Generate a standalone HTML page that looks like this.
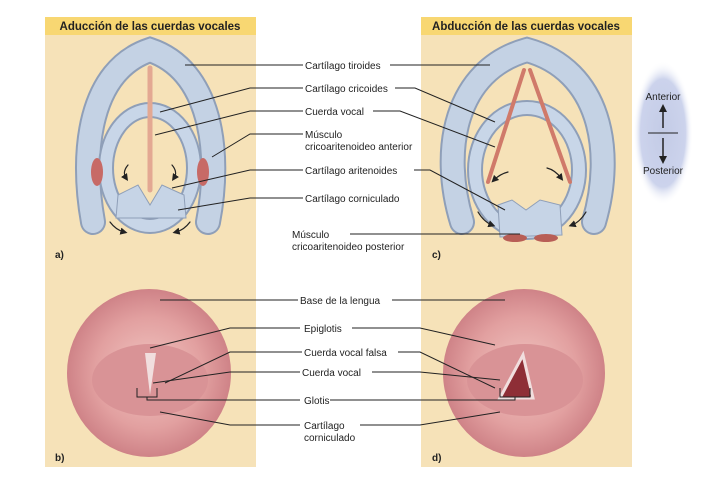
<!DOCTYPE html>
<html><head><meta charset="utf-8"><style>
body{margin:0;background:#fff;}
svg{display:block;font-family:"Liberation Sans",Arial,sans-serif;}
</style></head><body>
<svg width="701" height="491" viewBox="0 0 701 491" xmlns="http://www.w3.org/2000/svg">
<defs>
<radialGradient id="pk" cx="50%" cy="50%" r="55%">
<stop offset="0" stop-color="#f1c6c2"/><stop offset="0.6" stop-color="#e2a0a0"/><stop offset="1" stop-color="#c97a80"/></radialGradient>
<radialGradient id="ov" cx="50%" cy="50%" r="50%">
<stop offset="0" stop-color="#c3cbe6"/><stop offset="0.75" stop-color="#ccd3ec"/><stop offset="1" stop-color="#fff" stop-opacity="0"/></radialGradient>
<marker id="ah" markerWidth="6" markerHeight="6" refX="3" refY="3" orient="auto"><path d="M0,0 L6,3 L0,6 Z" fill="#222"/></marker>
</defs>
<rect x="45" y="35" width="211" height="432" fill="#f6e2b8"/>
<rect x="45" y="17" width="211" height="18" fill="#f8d772"/>
<rect x="421" y="35" width="211" height="432" fill="#f6e2b8"/>
<rect x="421" y="17" width="211" height="18" fill="#f8d772"/>
<text x="150" y="30" font-size="11.5" font-weight="bold" text-anchor="middle" fill="#222">Aducción de las cuerdas vocales</text>
<text x="526" y="30" font-size="11.5" font-weight="bold" text-anchor="middle" fill="#222">Abducción de las cuerdas vocales</text>

<ellipse cx="663" cy="133" rx="30" ry="72" fill="url(#ov)"/>
<text x="663" y="100" font-size="10" text-anchor="middle" fill="#222">Anterior</text>
<text x="663" y="174" font-size="10" text-anchor="middle" fill="#222">Posterior</text>
<line x1="648" y1="133" x2="678" y2="133" stroke="#222" stroke-width="1"/>
<line x1="663" y1="128" x2="663" y2="110" stroke="#222" stroke-width="1.5"/>
<polygon points="659,112 667,112 663,104" fill="#222"/>
<line x1="663" y1="138" x2="663" y2="158" stroke="#222" stroke-width="1.5"/>
<polygon points="659,156 667,156 663,164" fill="#222"/>

<g fill="none" stroke-linecap="round">
<path d="M93,222 C80,150 90,70 150,50 C210,70 222,150 208,222" stroke="#8f9fb8" stroke-width="26"/>
<path d="M93,222 C80,150 90,70 150,50 C210,70 222,150 208,222" stroke="#c4d2e4" stroke-width="22"/>
<ellipse cx="150" cy="168" rx="44" ry="58" stroke="#8f9fb8" stroke-width="16"/>
<ellipse cx="150" cy="168" rx="44" ry="58" stroke="#c8d6e8" stroke-width="12"/>
<line x1="150" y1="68" x2="150" y2="190" stroke="#e3a892" stroke-width="5"/>
<path d="M128,165 Q122,172 126,178" stroke="#222" stroke-width="1.2" marker-end="url(#ah)"/>
<path d="M172,165 Q178,172 174,178" stroke="#222" stroke-width="1.2" marker-end="url(#ah)"/>
<path d="M110,222 Q116,230 124,232" stroke="#222" stroke-width="1.2" marker-end="url(#ah)"/>
<path d="M190,222 Q184,230 176,232" stroke="#222" stroke-width="1.2" marker-end="url(#ah)"/>
</g>
<path d="M118,195 L138,185 L150,205 L162,185 L184,195 L186,218 L116,218 Z" fill="#c6d4e6" stroke="#8f9fb8"/>
<ellipse cx="97" cy="172" rx="6" ry="14" fill="#c76a66"/>
<ellipse cx="203" cy="172" rx="6" ry="14" fill="#c76a66"/>

<g fill="none" stroke-linecap="round">
<path d="M462,222 C440,150 455,70 527,50 C600,70 615,150 594,222" stroke="#8f9fb8" stroke-width="26"/>
<path d="M462,222 C440,150 455,70 527,50 C600,70 615,150 594,222" stroke="#c4d2e4" stroke-width="22"/>
<ellipse cx="527" cy="170" rx="52" ry="62" stroke="#8f9fb8" stroke-width="16"/>
<ellipse cx="527" cy="170" rx="52" ry="62" stroke="#c8d6e8" stroke-width="12"/>
<line x1="524" y1="70" x2="488" y2="182" stroke="#d07a6a" stroke-width="4"/>
<line x1="530" y1="70" x2="570" y2="182" stroke="#d07a6a" stroke-width="4"/>
<path d="M508,172 Q500,174 494,180" stroke="#222" stroke-width="1.2" marker-end="url(#ah)"/>
<path d="M547,168 Q555,170 561,178" stroke="#222" stroke-width="1.2" marker-end="url(#ah)"/>
<path d="M478,212 Q484,222 492,225" stroke="#222" stroke-width="1.2" marker-end="url(#ah)"/>
<path d="M586,212 Q580,222 572,225" stroke="#222" stroke-width="1.2" marker-end="url(#ah)"/>
</g>
<path d="M498,205 L512,200 L526,210 L540,200 L560,205 L562,235 L500,237 Z" fill="#c6d4e6" stroke="#8f9fb8"/>
<ellipse cx="515" cy="238" rx="12" ry="4" fill="#b85e56"/>
<ellipse cx="546" cy="238" rx="12" ry="4" fill="#b85e56"/>

<ellipse cx="149" cy="373" rx="82" ry="84" fill="url(#pk)"/>
<ellipse cx="150" cy="380" rx="58" ry="36" fill="#d99396"/>
<path d="M145,353 L150,395 L156,353 Z" fill="#f1dede"/>
<ellipse cx="524" cy="373" rx="81" ry="84" fill="url(#pk)"/>
<ellipse cx="525" cy="380" rx="58" ry="36" fill="#d99396"/>
<path d="M523,355 L500,398 L533,398 Z" fill="#8e2e36" stroke="#f1dede" stroke-width="3"/>

<g stroke="#222" stroke-width="1" fill="none">
<path d="M185,65 H303"/><path d="M390,65 H490"/>
<path d="M160,112 L250,88 H303"/><path d="M395,88 H415 L495,122"/>
<path d="M155,135 L250,111 H303"/><path d="M373,111 H400 L495,147"/>
<path d="M212,157 L250,134 H303"/>
<path d="M172,188 L250,170 H303"/><path d="M414,170 H430 L505,210"/>
<path d="M178,210 L250,198 H303"/>
<path d="M350,234 H520"/>
<path d="M160,300 H298"/><path d="M392,300 H505"/>
<path d="M150,348 L230,328 H300"/><path d="M352,328 H420 L495,345"/>
<path d="M165,383 L230,352 H302"/><path d="M398,352 H420 L495,388"/>
<path d="M153,383 L230,372 H300"/><path d="M372,372 H420 L500,380"/>
<path d="M137,388 V397 H157 V388 M147,397 V400 H300"/>
<path d="M500,388 V397 H530 V388 M515,397 V400 H330"/>
<path d="M160,412 L230,425 H300"/><path d="M360,425 H420 L500,412"/>
</g>
<g font-size="10" fill="#222">
<text x="305" y="69">Cartílago tiroides</text>
<text x="305" y="92">Cartílago cricoides</text>
<text x="305" y="115">Cuerda vocal</text>
<text x="305" y="138">Músculo</text>
<text x="305" y="150">cricoaritenoideo anterior</text>
<text x="305" y="174">Cartílago aritenoides</text>
<text x="305" y="202">Cartílago corniculado</text>
<text x="292" y="238">Músculo</text>
<text x="292" y="250">cricoaritenoideo posterior</text>
<text x="300" y="304">Base de la lengua</text>
<text x="304" y="332">Epiglotis</text>
<text x="304" y="356">Cuerda vocal falsa</text>
<text x="302" y="376">Cuerda vocal</text>
<text x="304" y="404">Glotis</text>
<text x="304" y="429">Cartílago</text>
<text x="304" y="441">corniculado</text>
</g>
<g font-size="10" font-weight="bold" fill="#222">
<text x="55" y="258">a)</text><text x="432" y="258">c)</text>
<text x="55" y="461">b)</text><text x="432" y="461">d)</text>
</g>
</svg>
</body></html>
